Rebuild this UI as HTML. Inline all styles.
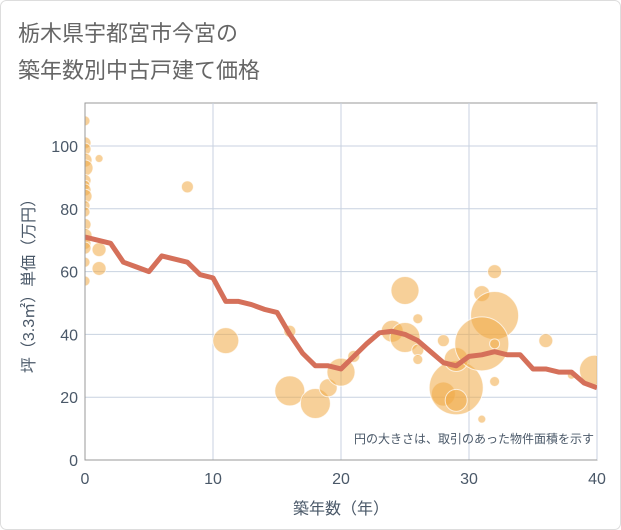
<!DOCTYPE html>
<html><head><meta charset="utf-8"><style>
body{margin:0;background:#fff;}
#wrap{position:relative;width:621px;height:530px;overflow:hidden;background:#fff;}
svg text{font-family:"Liberation Sans","Noto Sans CJK JP",sans-serif;}
</style></head><body>
<div id="wrap">
<svg id="chart" width="621" height="530">
<defs><clipPath id="pc"><rect x="85" y="103" width="512" height="357"/></clipPath></defs>
<rect x="0.5" y="0.5" width="620" height="529" rx="6" fill="#fff" stroke="#ddd"/>
<text x="18" y="41" font-size="22" fill="#666">栃木県宇都宮市今宮の</text>
<text x="18" y="78" font-size="22" fill="#666">築年数別中古戸建て価格</text>
<g id="grid"></g><g id="bubbles" clip-path="url(#pc)"></g><g id="line" clip-path="url(#pc)"></g><g id="axes"></g>
<text x="594" y="443" font-size="12" fill="#4a5868" text-anchor="end">円の大きさは、取引のあった物件面積を示す</text>
<text x="341" y="514" font-size="16" fill="#4a5868" text-anchor="middle">築年数（年）</text>
<text transform="translate(34,282) rotate(-90)" font-size="16" fill="#4a5868" text-anchor="middle">坪（3.3㎡）単価（万円）</text>
</svg></div>
<script>
const xTicks=[0,10,20,30,40];
const yTicks=[0,20,40,60,80,100];
const lineX=[0,1,2,3,4,5,6,7,8,9,10,11,12,13,14,15,16,17,18,19,20,21,22,23,24,25,26,27,28,29,30,31,32,33,34,35,36,37,38,39,40];
const lineY=[71,70,69,63,61.5,60,65,64,63,59,58,50.5,50.5,49.5,48,47,40,34,30,30,29,33,37,40.5,41,40,38,34.5,31,30,33,33.5,34.5,33.5,33.5,29,29,28,28,24.5,23];
const bubX=[0,0,0,0,0,0,0,0,0,0,0,0,0,0,0,0,0,1.1,1.1,1.1,8,11,16,16,18,19,20,21,24,25,25,26,26,26,28,28,29,29,29,31,32,31,32,32,32,31,36,39.8,38];
const bubY=[108,101,99,95.5,93,89,87.5,86,84,81,79,75,71.5,69,67.5,63,57,96,67,61,87,38,41,22,18,23,28,33,41,54,39,45,35,32,38,21,23,19,32,53,46,37,60,37,25,13,38,28.6,27];
const bubR=[5,6,6,7,8,6,5,6,7,5,5,6,7,6,6,5,5,4,7,7,6,13,6,15,15,9,14,6,11,14,15,5,6,5,6,12,27,11,12,8,24,27,7,5,5,4,7,15,4];
const X=v=>85+v*12.8, Y=v=>460-v*3.14;
const ns="http://www.w3.org/2000/svg";
function mk(t,a,p){const e=document.createElementNS(ns,t);for(const k in a)e.setAttribute(k,a[k]);p.appendChild(e);return e;}
const grid=document.getElementById('grid'),axes=document.getElementById('axes');
mk('rect',{x:85,y:103,width:512,height:357,fill:'#fff',stroke:'#999'},grid);
xTicks.forEach(t=>{const l=mk('line',{x1:X(t),x2:X(t),y1:103,y2:460,stroke:'#c8d2e0'},grid);

const tx=mk('text',{x:X(t),y:484,'font-size':16,fill:'#4a5868','text-anchor':'middle'},axes);tx.textContent=t;
});
yTicks.forEach(t=>{const l=mk('line',{x1:85,x2:597,y1:Y(t),y2:Y(t),stroke:'#c8d2e0'},grid);

const tx=mk('text',{x:78,y:Y(t)+6,'font-size':16,fill:'#4a5868','text-anchor':'end'},axes);tx.textContent=t;
});
const bg=document.getElementById('bubbles');
bubX.forEach((x,i)=>{const c=mk('circle',{cx:X(x),cy:Y(bubY[i]),r:bubR[i],fill:'rgba(240,170,70,0.55)',stroke:'rgba(255,255,255,0.7)','stroke-width':1},bg);
});
const p=mk('polyline',{points:lineX.map((x,i)=>X(x)+','+Y(lineY[i])).join(' '),fill:'none',stroke:'#d5705a','stroke-width':5,'stroke-linejoin':'round'},document.getElementById('line'));

mk('line',{x1:85,x2:597,y1:460,y2:460,stroke:'#999'},axes);
mk('line',{x1:85,x2:85,y1:103,y2:460,stroke:'#999'},axes);
</script>
</body></html>
